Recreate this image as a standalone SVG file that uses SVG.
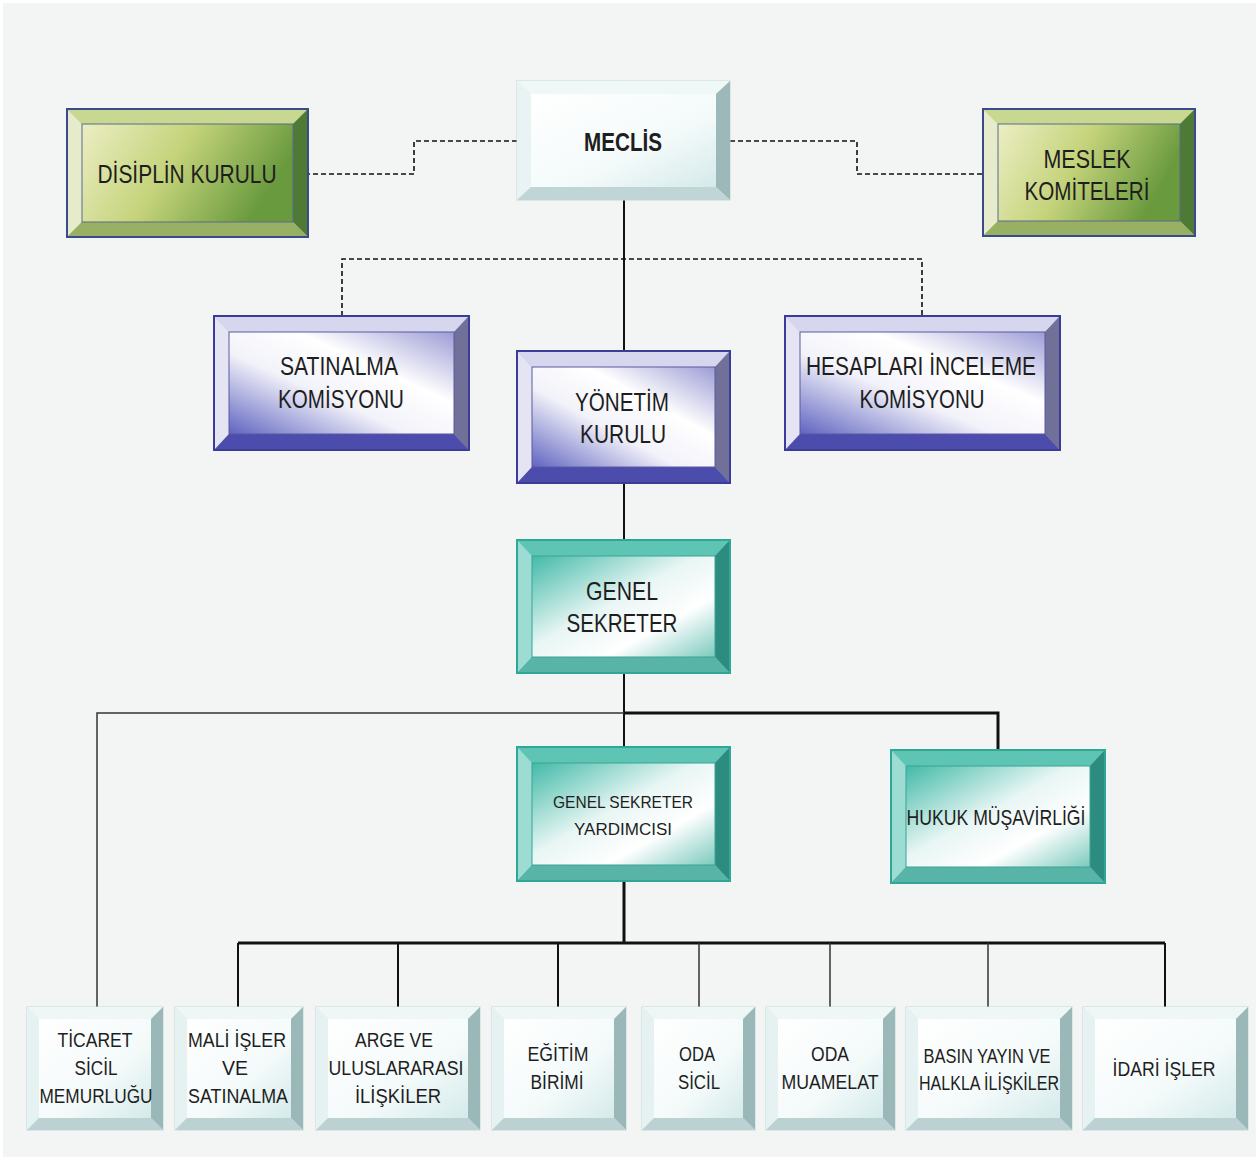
<svg xmlns="http://www.w3.org/2000/svg" width="1259" height="1160" viewBox="0 0 1259 1160">
<style>
text{font-family:"Liberation Sans",Arial,sans-serif;fill:#1e1e1e;text-anchor:middle}
.t24{font-size:26px}
.t22{font-size:22px}
.t18{font-size:20px}
.t17{font-size:17px}
.c{fill:none;stroke:#111;stroke-width:2}
.ck{fill:none;stroke:#111;stroke-width:3}
.cg{fill:none;stroke:#333;stroke-width:1.5}
.d{fill:none;stroke:#111;stroke-width:1.6;stroke-dasharray:5,3}
.lo{stroke:#c4d8d8;stroke-width:1}
.go{stroke:#3a4a8c;stroke-width:2}
.bo{stroke:#3a3c98;stroke-width:2}
.to{stroke:#2ea896;stroke-width:2}
</style>
<defs>
<linearGradient id="lf" x1="0" y1="0" x2="1" y2="1"><stop offset="0" stop-color="#ffffff"/><stop offset="0.6" stop-color="#f4fafa"/><stop offset="1" stop-color="#d4eaea"/></linearGradient>
<linearGradient id="gf" x1="0" y1="0" x2="1" y2="0.3"><stop offset="0" stop-color="#eceec4"/><stop offset="0.5" stop-color="#c4d37a"/><stop offset="1" stop-color="#6a9a3e"/></linearGradient>
<linearGradient id="bf" x1="0" y1="1" x2="1" y2="0"><stop offset="0" stop-color="#6064c0"/><stop offset="0.4" stop-color="#f2f2fa"/><stop offset="0.65" stop-color="#ffffff"/><stop offset="1" stop-color="#9c9cd6"/></linearGradient>
<linearGradient id="tf" x1="0" y1="0" x2="1" y2="1"><stop offset="0" stop-color="#42baa8"/><stop offset="0.45" stop-color="#e8f6f4"/><stop offset="0.7" stop-color="#ffffff"/><stop offset="1" stop-color="#7ccabe"/></linearGradient>
</defs>
<rect x="0" y="0" width="1259" height="1160" fill="#ffffff"/>
<rect x="3" y="3" width="1253" height="1154" fill="#f3f5f4"/>

<g id="connectors">
<path class="d" d="M517,141 H414 V174 H308"/>
<path class="d" d="M730,141 H857 V174 H983"/>
<path class="d" d="M342,316 V259 H922 V316"/>
<path class="c" d="M624,200 V351"/>
<path class="c" d="M624,483 V540"/>
<path class="c" d="M624,673 V747"/>
<path class="cg" d="M97,1007 V713 H624"/>
<path class="ck" d="M624,713 H998 V750"/>
<path class="ck" d="M624,881 V943"/>
<path class="ck" d="M238,943 H1165"/>
<path class="c" d="M238,943 V1007 M398,943 V1007 M558,943 V1007 M1165,943 V1007"/>
<path class="cg" d="M699,943 V1007 M830,943 V1007 M988,943 V1007"/>
</g>

<g id="meclis">
<rect x="517" y="81" width="213" height="119" fill="#e6f0f0" class="lo"/>
<polygon points="517,81 730,81 716,94 531,94" fill="#f0f7f7"/>
<polygon points="517,81 531,94 531,187 517,200" fill="#e9f3f3"/>
<polygon points="730,81 730,200 716,187 716,94" fill="#9db8b8"/>
<polygon points="517,200 531,187 716,187 730,200" fill="#c0d6d6"/>
<rect x="531" y="94" width="185" height="93" fill="url(#lf)"/>
<text x="623" y="151" class="t24" font-weight="bold" textLength="78" lengthAdjust="spacingAndGlyphs">MECLİS</text>
</g>

<g id="disiplin">
<rect x="67" y="109" width="241" height="128" fill="#a8bc70" class="go"/>
<polygon points="68,110 307,110 293,124 82,124" fill="#c8d890"/>
<polygon points="68,110 82,124 82,222 68,236" fill="#e6ebcc"/>
<polygon points="307,110 307,236 293,222 293,124" fill="#4e7a36"/>
<polygon points="68,236 82,222 293,222 307,236" fill="#98b064"/>
<rect x="82" y="124" width="211" height="98" fill="url(#gf)" stroke="#5a6a8c" stroke-width="1"/>
<text x="187" y="183" class="t24" textLength="179" lengthAdjust="spacingAndGlyphs">DİSİPLİN KURULU</text>
</g>

<g id="meslek">
<rect x="983" y="109" width="212" height="127" fill="#a8bc70" class="go"/>
<polygon points="984,110 1194,110 1180,124 998,124" fill="#c8d890"/>
<polygon points="984,110 998,124 998,221 984,235" fill="#e6ebcc"/>
<polygon points="1194,110 1194,235 1180,221 1180,124" fill="#4e7a36"/>
<polygon points="984,235 998,221 1180,221 1194,235" fill="#98b064"/>
<rect x="998" y="124" width="182" height="97" fill="url(#gf)" stroke="#5a6a8c" stroke-width="1"/>
<text x="1087" y="168" class="t24" textLength="87" lengthAdjust="spacingAndGlyphs">MESLEK</text>
<text x="1087" y="200" class="t24" textLength="125" lengthAdjust="spacingAndGlyphs">KOMİTELERİ</text>
</g>

<g id="satinalma">
<rect x="214" y="316" width="255" height="134" fill="#b0b0dc" class="bo"/>
<polygon points="215,317 468,317 454,332 229,332" fill="#d6d6ee"/>
<polygon points="215,317 229,332 229,434 215,449" fill="#e4e4f2"/>
<polygon points="468,317 468,449 454,434 454,332" fill="#707098"/>
<polygon points="215,449 229,434 454,434 468,449" fill="#4c4cac"/>
<rect x="229" y="332" width="225" height="102" fill="url(#bf)" stroke="#5a5aa0" stroke-width="1"/>
<text x="339" y="375" class="t24" textLength="118" lengthAdjust="spacingAndGlyphs">SATINALMA</text>
<text x="341" y="408" class="t24" textLength="126" lengthAdjust="spacingAndGlyphs">KOMİSYONU</text>
</g>

<g id="yonetim">
<rect x="517" y="351" width="213" height="132" fill="#b0b0dc" class="bo"/>
<polygon points="518,352 729,352 715,367 532,367" fill="#d6d6ee"/>
<polygon points="518,352 532,367 532,467 518,482" fill="#e4e4f2"/>
<polygon points="729,352 729,482 715,467 715,367" fill="#707098"/>
<polygon points="518,482 532,467 715,467 729,482" fill="#4c4cac"/>
<rect x="532" y="367" width="183" height="100" fill="url(#bf)" stroke="#5a5aa0" stroke-width="1"/>
<text x="622" y="411" class="t24" textLength="94" lengthAdjust="spacingAndGlyphs">YÖNETİM</text>
<text x="623" y="443" class="t24" textLength="86" lengthAdjust="spacingAndGlyphs">KURULU</text>
</g>

<g id="hesaplari">
<rect x="785" y="316" width="275" height="134" fill="#b0b0dc" class="bo"/>
<polygon points="786,317 1059,317 1045,332 800,332" fill="#d6d6ee"/>
<polygon points="786,317 800,332 800,434 786,449" fill="#e4e4f2"/>
<polygon points="1059,317 1059,449 1045,434 1045,332" fill="#707098"/>
<polygon points="786,449 800,434 1045,434 1059,449" fill="#4c4cac"/>
<rect x="800" y="332" width="245" height="102" fill="url(#bf)" stroke="#5a5aa0" stroke-width="1"/>
<text x="921" y="375" class="t24" textLength="230" lengthAdjust="spacingAndGlyphs">HESAPLARI İNCELEME</text>
<text x="922" y="408" class="t24" textLength="125" lengthAdjust="spacingAndGlyphs">KOMİSYONU</text>
</g>

<g id="genel-sekreter">
<rect x="517" y="540" width="213" height="133" fill="#70c4b8" class="to"/>
<polygon points="518,541 729,541 715,556 532,556" fill="#5ec4b4"/>
<polygon points="518,541 532,556 532,657 518,672" fill="#9cdcd2"/>
<polygon points="729,541 729,672 715,657 715,556" fill="#2c8c80"/>
<polygon points="518,672 532,657 715,657 729,672" fill="#58b4a6"/>
<rect x="532" y="556" width="183" height="101" fill="url(#tf)" stroke="#3aa494" stroke-width="1"/>
<text x="622" y="600" class="t24" textLength="72" lengthAdjust="spacingAndGlyphs">GENEL</text>
<text x="622" y="632" class="t24" textLength="111" lengthAdjust="spacingAndGlyphs">SEKRETER</text>
</g>

<g id="gs-yardimcisi">
<rect x="517" y="747" width="213" height="134" fill="#70c4b8" class="to"/>
<polygon points="518,748 729,748 715,763 532,763" fill="#5ec4b4"/>
<polygon points="518,748 532,763 532,865 518,880" fill="#9cdcd2"/>
<polygon points="729,748 729,880 715,865 715,763" fill="#2c8c80"/>
<polygon points="518,880 532,865 715,865 729,880" fill="#58b4a6"/>
<rect x="532" y="763" width="183" height="102" fill="url(#tf)" stroke="#3aa494" stroke-width="1"/>
<text x="623" y="808" class="t17" textLength="140" lengthAdjust="spacingAndGlyphs">GENEL SEKRETER</text>
<text x="623" y="835" class="t17" textLength="98" lengthAdjust="spacingAndGlyphs">YARDIMCISI</text>
</g>

<g id="hukuk">
<rect x="891" y="750" width="214" height="133" fill="#70c4b8" class="to"/>
<polygon points="892,751 1104,751 1090,766 906,766" fill="#5ec4b4"/>
<polygon points="892,751 906,766 906,867 892,882" fill="#9cdcd2"/>
<polygon points="1104,751 1104,882 1090,867 1090,766" fill="#2c8c80"/>
<polygon points="892,882 906,867 1090,867 1104,882" fill="#58b4a6"/>
<rect x="906" y="766" width="184" height="101" fill="url(#tf)" stroke="#3aa494" stroke-width="1"/>
<text x="996" y="825" class="t22" textLength="179" lengthAdjust="spacingAndGlyphs">HUKUK MÜŞAVİRLİĞİ</text>
</g>

<g id="ticaret">
<rect x="27" y="1007" width="136" height="123" fill="#dcebeb" class="lo"/>
<polygon points="27,1007 163,1007 151,1019 39,1019" fill="#eef6f6"/>
<polygon points="27,1007 39,1019 39,1118 27,1130" fill="#e6f1f1"/>
<polygon points="163,1007 163,1130 151,1118 151,1019" fill="#9ab8b8"/>
<polygon points="27,1130 39,1118 151,1118 163,1130" fill="#bcd2d2"/>
<rect x="39" y="1019" width="112" height="99" fill="url(#lf)"/>
<text x="95" y="1047" class="t18" textLength="75" lengthAdjust="spacingAndGlyphs">TİCARET</text>
<text x="96" y="1075" class="t18" textLength="43" lengthAdjust="spacingAndGlyphs">SİCİL</text>
<text x="96" y="1103" class="t18" textLength="113" lengthAdjust="spacingAndGlyphs">MEMURLUĞU</text>
</g>

<g id="mali">
<rect x="175" y="1007" width="128" height="123" fill="#dcebeb" class="lo"/>
<polygon points="175,1007 303,1007 291,1019 187,1019" fill="#eef6f6"/>
<polygon points="175,1007 187,1019 187,1118 175,1130" fill="#e6f1f1"/>
<polygon points="303,1007 303,1130 291,1118 291,1019" fill="#9ab8b8"/>
<polygon points="175,1130 187,1118 291,1118 303,1130" fill="#bcd2d2"/>
<rect x="187" y="1019" width="104" height="99" fill="url(#lf)"/>
<text x="237" y="1047" class="t18" textLength="98" lengthAdjust="spacingAndGlyphs">MALİ İŞLER</text>
<text x="235" y="1075" class="t18" textLength="26" lengthAdjust="spacingAndGlyphs">VE</text>
<text x="238" y="1103" class="t18" textLength="100" lengthAdjust="spacingAndGlyphs">SATINALMA</text>
</g>

<g id="arge">
<rect x="316" y="1007" width="164" height="123" fill="#dcebeb" class="lo"/>
<polygon points="316,1007 480,1007 468,1019 328,1019" fill="#eef6f6"/>
<polygon points="316,1007 328,1019 328,1118 316,1130" fill="#e6f1f1"/>
<polygon points="480,1007 480,1130 468,1118 468,1019" fill="#9ab8b8"/>
<polygon points="316,1130 328,1118 468,1118 480,1130" fill="#bcd2d2"/>
<rect x="328" y="1019" width="140" height="99" fill="url(#lf)"/>
<text x="394" y="1047" class="t18" textLength="78" lengthAdjust="spacingAndGlyphs">ARGE VE</text>
<text x="396" y="1075" class="t18" textLength="135" lengthAdjust="spacingAndGlyphs">ULUSLARARASI</text>
<text x="398" y="1103" class="t18" textLength="86" lengthAdjust="spacingAndGlyphs">İLİŞKİLER</text>
</g>

<g id="egitim">
<rect x="492" y="1007" width="134" height="123" fill="#dcebeb" class="lo"/>
<polygon points="492,1007 626,1007 614,1019 504,1019" fill="#eef6f6"/>
<polygon points="492,1007 504,1019 504,1118 492,1130" fill="#e6f1f1"/>
<polygon points="626,1007 626,1130 614,1118 614,1019" fill="#9ab8b8"/>
<polygon points="492,1130 504,1118 614,1118 626,1130" fill="#bcd2d2"/>
<rect x="504" y="1019" width="110" height="99" fill="url(#lf)"/>
<text x="558" y="1061" class="t18" textLength="61" lengthAdjust="spacingAndGlyphs">EĞİTİM</text>
<text x="557" y="1089" class="t18" textLength="53" lengthAdjust="spacingAndGlyphs">BİRİMİ</text>
</g>

<g id="oda-sicil">
<rect x="642" y="1007" width="113" height="123" fill="#dcebeb" class="lo"/>
<polygon points="642,1007 755,1007 743,1019 654,1019" fill="#eef6f6"/>
<polygon points="642,1007 654,1019 654,1118 642,1130" fill="#e6f1f1"/>
<polygon points="755,1007 755,1130 743,1118 743,1019" fill="#9ab8b8"/>
<polygon points="642,1130 654,1118 743,1118 755,1130" fill="#bcd2d2"/>
<rect x="654" y="1019" width="89" height="99" fill="url(#lf)"/>
<text x="697" y="1061" class="t18" textLength="36" lengthAdjust="spacingAndGlyphs">ODA</text>
<text x="699" y="1089" class="t18" textLength="42" lengthAdjust="spacingAndGlyphs">SİCİL</text>
</g>

<g id="oda-muamelat">
<rect x="766" y="1007" width="129" height="123" fill="#dcebeb" class="lo"/>
<polygon points="766,1007 895,1007 883,1019 778,1019" fill="#eef6f6"/>
<polygon points="766,1007 778,1019 778,1118 766,1130" fill="#e6f1f1"/>
<polygon points="895,1007 895,1130 883,1118 883,1019" fill="#9ab8b8"/>
<polygon points="766,1130 778,1118 883,1118 895,1130" fill="#bcd2d2"/>
<rect x="778" y="1019" width="105" height="99" fill="url(#lf)"/>
<text x="830" y="1061" class="t18" textLength="38" lengthAdjust="spacingAndGlyphs">ODA</text>
<text x="830" y="1089" class="t18" textLength="97" lengthAdjust="spacingAndGlyphs">MUAMELAT</text>
</g>

<g id="basin">
<rect x="906" y="1007" width="166" height="123" fill="#dcebeb" class="lo"/>
<polygon points="906,1007 1072,1007 1060,1019 918,1019" fill="#eef6f6"/>
<polygon points="906,1007 918,1019 918,1118 906,1130" fill="#e6f1f1"/>
<polygon points="1072,1007 1072,1130 1060,1118 1060,1019" fill="#9ab8b8"/>
<polygon points="906,1130 918,1118 1060,1118 1072,1130" fill="#bcd2d2"/>
<rect x="918" y="1019" width="142" height="99" fill="url(#lf)"/>
<text x="987" y="1063" class="t18" textLength="127" lengthAdjust="spacingAndGlyphs">BASIN YAYIN VE</text>
<text x="989" y="1090" class="t18" textLength="140" lengthAdjust="spacingAndGlyphs">HALKLA İLİŞKİLER</text>
</g>

<g id="idari">
<rect x="1083" y="1007" width="165" height="123" fill="#dcebeb" class="lo"/>
<polygon points="1083,1007 1248,1007 1236,1019 1095,1019" fill="#eef6f6"/>
<polygon points="1083,1007 1095,1019 1095,1118 1083,1130" fill="#e6f1f1"/>
<polygon points="1248,1007 1248,1130 1236,1118 1236,1019" fill="#9ab8b8"/>
<polygon points="1083,1130 1095,1118 1236,1118 1248,1130" fill="#bcd2d2"/>
<rect x="1095" y="1019" width="141" height="99" fill="url(#lf)"/>
<text x="1164" y="1076" class="t18" textLength="103" lengthAdjust="spacingAndGlyphs">İDARİ İŞLER</text>
</g>
</svg>
